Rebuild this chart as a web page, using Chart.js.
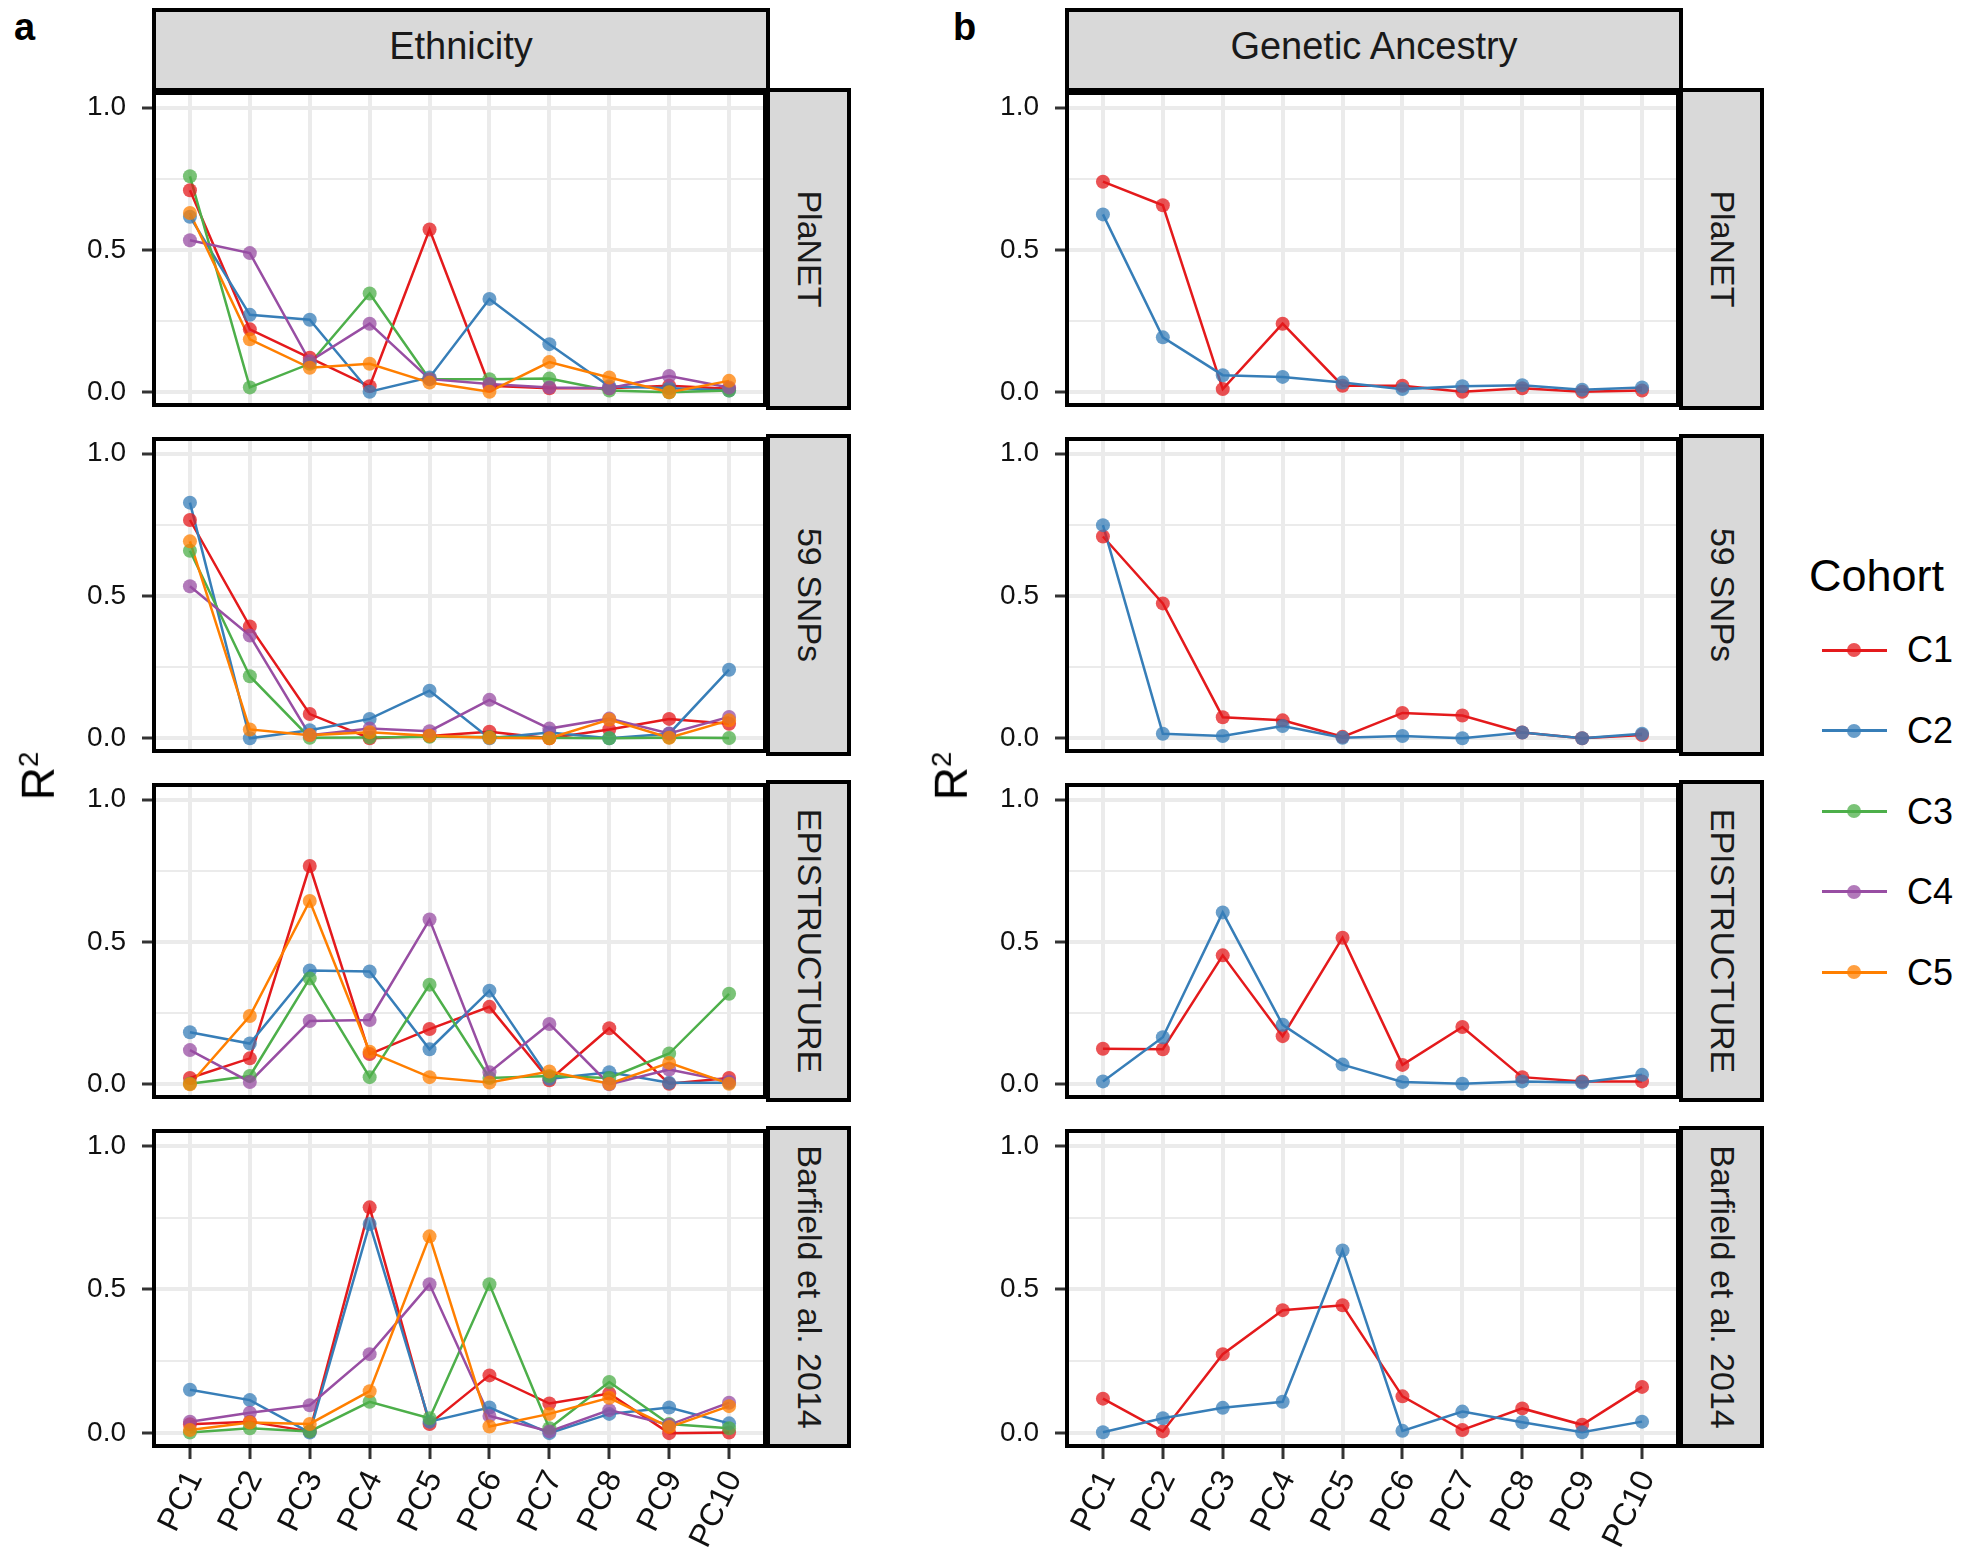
<!DOCTYPE html>
<html>
<head>
<meta charset="utf-8">
<script src="https://cdn.jsdelivr.net/npm/chart.js@4.4.1/dist/chart.umd.min.js"></script>
<style>
html,body{margin:0;padding:0;background:#fff;overflow:hidden;}
body{width:1961px;height:1562px;position:relative;font-family:"Liberation Sans",Arial,sans-serif;color:#000;}
.wrap{position:absolute;}
.strip{position:absolute;background:#D9D9D9;border:4px solid #000;box-sizing:border-box;}
.hdr{display:flex;align-items:center;justify-content:center;font-size:38px;color:#1a1a1a;padding-bottom:8px;}
.side span{position:absolute;left:50%;top:50%;transform:translate(-50%,-50%) rotate(90deg);white-space:nowrap;font-size:34px;color:#1a1a1a;}
.tag{position:absolute;font-weight:bold;font-size:38px;line-height:1;}
.ylab{position:absolute;font-size:46px;line-height:1;white-space:nowrap;transform:translate(-50%,-50%) rotate(-90deg);}
.ylab sup{font-size:0.6em;}
.legtitle{position:absolute;font-size:45px;line-height:1;}
.legtext{position:absolute;font-size:36px;line-height:1;}
.legline{position:absolute;height:3px;}
.legdot{position:absolute;width:14px;height:14px;border-radius:50%;}
</style>
</head>
<body>
<script>
// ---------- data ----------
const pcLabels = ['PC1','PC2','PC3','PC4','PC5','PC6','PC7','PC8','PC9','PC10'];
const cohorts = ['C1','C2','C3','C4','C5'];
const cohortColors = ['#E41A1C','#377EB8','#4DAF4A','#984EA3','#FF7F00'];
const methods = ['PlaNET','59 SNPs','EPISTRUCTURE','Barfield et al. 2014'];
const columnTitles = ['Ethnicity','Genetic Ancestry'];
const yMajorTicks = [0, 0.5, 1.0];
const yMajorLabels = ['0.0','0.5','1.0'];
const yMinorTicks = [0.25, 0.75];

// Ethnicity (panel a)
const ethPlaNET_C1 = [0.710, 0.221, 0.121, 0.021, 0.572, 0.023, 0.014, 0.014, 0.023, 0.012];
const ethPlaNET_C2 = [0.617, 0.272, 0.255, 0.002, 0.052, 0.328, 0.169, 0.021, 0.014, 0.006];
const ethPlaNET_C3 = [0.759, 0.017, 0.100, 0.347, 0.046, 0.046, 0.048, 0.006, 0.000, 0.006];
const ethPlaNET_C4 = [0.534, 0.489, 0.109, 0.241, 0.046, 0.029, 0.017, 0.014, 0.057, 0.017];
const ethPlaNET_C5 = [0.630, 0.186, 0.086, 0.100, 0.034, 0.002, 0.106, 0.052, 0.000, 0.040];

const ethSNP_C1 = [0.767, 0.393, 0.085, 0.000, 0.008, 0.023, 0.000, 0.031, 0.068, 0.051];
const ethSNP_C2 = [0.828, 0.000, 0.028, 0.068, 0.167, 0.000, 0.020, 0.000, 0.016, 0.241];
const ethSNP_C3 = [0.659, 0.218, 0.002, 0.003, 0.005, 0.004, 0.002, 0.000, 0.003, 0.001];
const ethSNP_C4 = [0.534, 0.361, 0.011, 0.034, 0.025, 0.135, 0.034, 0.069, 0.017, 0.075];
const ethSNP_C5 = [0.692, 0.031, 0.011, 0.021, 0.009, 0.002, 0.000, 0.066, 0.002, 0.063];

const ethEPI_C1 = [0.022, 0.091, 0.767, 0.106, 0.194, 0.272, 0.014, 0.197, 0.002, 0.022];
const ethEPI_C2 = [0.183, 0.143, 0.400, 0.396, 0.123, 0.329, 0.019, 0.042, 0.005, 0.005];
const ethEPI_C3 = [0.002, 0.029, 0.372, 0.025, 0.350, 0.022, 0.029, 0.022, 0.108, 0.318];
const ethEPI_C4 = [0.120, 0.008, 0.222, 0.226, 0.579, 0.042, 0.212, 0.000, 0.052, 0.010];
const ethEPI_C5 = [0.000, 0.240, 0.644, 0.114, 0.025, 0.006, 0.045, 0.002, 0.075, 0.002];

const ethBar_C1 = [0.031, 0.040, 0.006, 0.786, 0.032, 0.201, 0.103, 0.138, 0.000, 0.002];
const ethBar_C2 = [0.151, 0.115, 0.002, 0.728, 0.040, 0.089, 0.000, 0.067, 0.089, 0.034];
const ethBar_C3 = [0.002, 0.017, 0.006, 0.109, 0.052, 0.518, 0.017, 0.178, 0.032, 0.017];
const ethBar_C4 = [0.040, 0.071, 0.097, 0.275, 0.518, 0.060, 0.006, 0.080, 0.029, 0.106];
const ethBar_C5 = [0.011, 0.037, 0.032, 0.146, 0.685, 0.023, 0.067, 0.123, 0.021, 0.094];

// Genetic Ancestry (panel b)
const genPlaNET_C1 = [0.740, 0.657, 0.011, 0.241, 0.023, 0.023, 0.002, 0.014, 0.002, 0.006];
const genPlaNET_C2 = [0.625, 0.193, 0.060, 0.054, 0.034, 0.011, 0.021, 0.025, 0.009, 0.017];
const genSNP_C1 = [0.709, 0.474, 0.074, 0.063, 0.005, 0.089, 0.080, 0.020, 0.000, 0.011];
const genSNP_C2 = [0.749, 0.016, 0.008, 0.043, 0.002, 0.008, 0.000, 0.020, 0.000, 0.016];
const genEPI_C1 = [0.125, 0.123, 0.453, 0.169, 0.515, 0.068, 0.201, 0.025, 0.010, 0.010];
const genEPI_C2 = [0.010, 0.165, 0.604, 0.209, 0.069, 0.008, 0.002, 0.010, 0.006, 0.033];
const genBar_C1 = [0.120, 0.006, 0.275, 0.428, 0.445, 0.128, 0.011, 0.086, 0.029, 0.161];
const genBar_C2 = [0.003, 0.052, 0.088, 0.109, 0.636, 0.008, 0.075, 0.038, 0.003, 0.040];

const panelsEth = [
  [ethPlaNET_C1, ethPlaNET_C2, ethPlaNET_C3, ethPlaNET_C4, ethPlaNET_C5],
  [ethSNP_C1, ethSNP_C2, ethSNP_C3, ethSNP_C4, ethSNP_C5],
  [ethEPI_C1, ethEPI_C2, ethEPI_C3, ethEPI_C4, ethEPI_C5],
  [ethBar_C1, ethBar_C2, ethBar_C3, ethBar_C4, ethBar_C5]
];
const panelsGen = [
  [genPlaNET_C1, genPlaNET_C2],
  [genSNP_C1, genSNP_C2],
  [genEPI_C1, genEPI_C2],
  [genBar_C1, genBar_C2]
];

// ---------- layout ----------
const colLeft = [154, 1067];
const panelW = 614;
const panelH = 318;
const stripW = 81;
const rowTops = [90, 436, 782, 1128];
const yAxisW = 120;
const xAxisH = 116;
const PAD = 4;
const FONT = '"Liberation Sans", Arial, sans-serif';
const TICKFONT = '"Liberation Sans Narrow", "Arial Narrow", "Liberation Sans", Arial, sans-serif';

Chart.defaults.font.family = FONT;
Chart.defaults.color = '#111';

function rgba(hex, a) {
  const n = parseInt(hex.slice(1), 16);
  return `rgba(${(n>>16)&255},${(n>>8)&255},${n&255},${a})`;
}

const framePlugin = {
  id: 'frame',
  afterDraw(chart) {
    const {ctx, chartArea: a} = chart;
    ctx.save();
    ctx.strokeStyle = '#000';
    ctx.lineWidth = 4;
    ctx.strokeRect(a.left, a.top, a.right - a.left, a.bottom - a.top);
    ctx.restore();
  }
};

function addDiv(cls, style, html) {
  const d = document.createElement('div');
  d.className = cls;
  Object.assign(d.style, style);
  if (html !== undefined) d.innerHTML = html;
  document.body.appendChild(d);
  return d;
}

function noPad(s) {
  s.paddingTop = 0; s.paddingBottom = 0; s.paddingLeft = 0; s.paddingRight = 0;
}

function makePanel(col, row, series) {
  const bottom = row === rowTops.length - 1;
  const left = colLeft[col] - yAxisW;
  const top = rowTops[row] - PAD;
  const w = yAxisW + panelW + PAD;
  const h = PAD + panelH + (bottom ? xAxisH : PAD);
  const wrap = addDiv('wrap', {left: left + 'px', top: top + 'px', width: w + 'px', height: h + 'px'});
  const cv = document.createElement('canvas');
  wrap.appendChild(cv);

  const datasets = [];
  series.forEach((vals, i) => {
    const pts = vals.map((v, j) => ({x: j, y: v}));
    datasets.push({
      label: cohorts[i] + ' line', data: pts, showLine: true,
      borderColor: cohortColors[i], borderWidth: 2.5, pointRadius: 0,
      order: 30 - i
    });
    datasets.push({
      label: cohorts[i], data: pts, showLine: false,
      pointRadius: 7, pointHoverRadius: 7,
      pointBackgroundColor: rgba(cohortColors[i], 0.75), pointBorderWidth: 0,
      pointBorderColor: 'rgba(0,0,0,0)',
      order: 20 - i
    });
  });

  new Chart(cv, {
    type: 'scatter',
    data: {datasets},
    plugins: [framePlugin],
    options: {
      responsive: true, maintainAspectRatio: false, animation: false,
      devicePixelRatio: 1,
      layout: {padding: {top: PAD, right: PAD, bottom: bottom ? 0 : PAD, left: 0}},
      plugins: {legend: {display: false}, tooltip: {enabled: false}},
      scales: {
        x: {
          type: 'linear', min: -0.6, max: 9.6,
          afterBuildTicks: s => { s.ticks = pcLabels.map((_, i) => ({value: i})); },
          afterFit: s => { s.height = bottom ? xAxisH : 0; noPad(s); },
          border: {display: false},
          grid: {color: '#EBEBEB', lineWidth: 4, drawTicks: bottom, tickLength: 13, tickColor: '#333', tickWidth: 3},
          ticks: {display: bottom, autoSkip: false, minRotation: 64, maxRotation: 64, padding: 6,
                  labelOffset: 5,
                  font: {size: 32, family: FONT}, color: '#111',
                  callback: v => pcLabels[v]}
        },
        y: {
          type: 'linear', min: -0.0448, max: 1.0517,
          afterBuildTicks: s => { s.ticks = yMinorTicks.concat(yMajorTicks).sort((a,b)=>a-b).map(v => ({value: v})); },
          afterFit: s => { s.width = yAxisW; noPad(s); },
          border: {display: false},
          grid: {
            color: '#EBEBEB',
            lineWidth: c => yMajorTicks.includes(c.tick.value) ? 4 : 2,
            drawTicks: true, tickLength: 12, tickWidth: 3,
            tickColor: c => yMajorTicks.includes(c.tick.value) ? '#333' : 'rgba(0,0,0,0)'
          },
          ticks: {autoSkip: false, padding: 16, font: {size: 28, family: TICKFONT}, color: '#111',
                  callback: v => { const k = yMajorTicks.indexOf(v); return k >= 0 ? yMajorLabels[k] : ''; }}
        }
      }
    }
  });

  // facet strip on the right
  addDiv('strip side', {
    left: (colLeft[col] + panelW - 2) + 'px', top: (rowTops[row] - 2) + 'px',
    width: (stripW + 4) + 'px', height: (panelH + 4) + 'px'
  }, '<span>' + methods[row] + '</span>');
}

// column header strips
columnTitles.forEach((t, c) => {
  addDiv('strip hdr', {left: (colLeft[c] - 2) + 'px', top: '8px', width: (panelW + 4) + 'px', height: '84px'}, t);
});

panelsEth.forEach((ser, r) => makePanel(0, r, ser));
panelsGen.forEach((ser, r) => makePanel(1, r, ser));

// panel tags
addDiv('tag', {left: '14px', top: '8px'}, 'a');
addDiv('tag', {left: '953px', top: '8px'}, 'b');

// y axis titles
addDiv('ylab', {left: '38px', top: '776px'}, 'R<sup>2</sup>');
addDiv('ylab', {left: '951px', top: '776px'}, 'R<sup>2</sup>');

// legend
addDiv('legtitle', {left: '1809px', top: '553px'}, 'Cohort');
cohorts.forEach((c, i) => {
  const cy = 650 + i * 80.6;
  addDiv('legline', {left: '1822px', top: (cy - 1.5) + 'px', width: '65px', background: cohortColors[i]});
  addDiv('legdot', {left: '1847px', top: (cy - 7) + 'px', background: rgba(cohortColors[i], 0.75)});
  addDiv('legtext', {left: '1907px', top: (cy + 12.9 - 30.5) + 'px'}, c);
});
</script>
</body>
</html>
